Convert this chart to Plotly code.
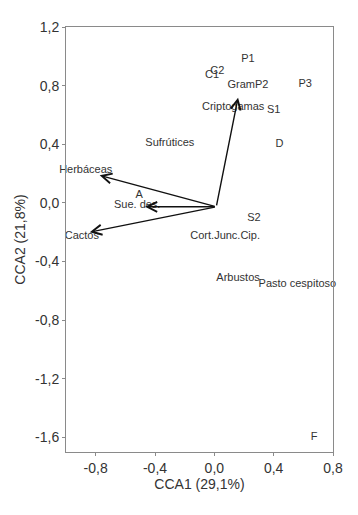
import plotly.graph_objects as go

# Site / species labels (CCA1, CCA2 scores)
label_text = ["P1", "C2", "C1", "GramP2", "P3", "Criptogamas", "S1", "Sufrútices", "D",
              "Herbáceas", "A", "Sue. des.", "Cactos", "S2", "Cort.Junc.Cip.",
              "Arbustos", "Pasto cespitoso", "F"]
label_x = [0.227, 0.02, -0.015, 0.227, 0.613, 0.127, 0.40, -0.30, 0.44,
           -0.867, -0.507, -0.52, -0.893, 0.267, 0.073,
           0.16, 0.56, 0.673]
label_y = [0.98, 0.90, 0.87, 0.80, 0.81, 0.65, 0.635, 0.41, 0.40,
           0.22, 0.054, -0.013, -0.228, -0.107, -0.228,
           -0.517, -0.557, -1.60]

# Environmental / species vectors (biplot arrows)
arrow_names = ["Herbáceas", "Sue. des.", "Cactos", "Criptogamas"]
arrow_origin_x = 0.013
arrow_origin_y = -0.027
arrow_tip_x = [-0.773, -0.467, -0.84, 0.16]
arrow_tip_y = [0.188, -0.027, -0.20, 0.718]

x_tick_vals = [-0.8, -0.4, 0.0, 0.4, 0.8]
x_tick_text = ["-0,8", "-0,4", "0,0", "0,4", "0,8"]
y_tick_vals = [1.2, 0.8, 0.4, 0.0, -0.4, -0.8, -1.2, -1.6]
y_tick_text = ["1,2", "0,8", "0,4", "0,0", "-0,4", "-0,8", "-1,2", "-1,6"]

FONT = "Liberation Sans, Arial"

fig = go.Figure()
fig.add_trace(go.Scatter(
    x=label_x, y=label_y, text=label_text, mode="text",
    textfont=dict(family=FONT, size=11, color="#333333"),
    textposition="middle center", hoverinfo="text", showlegend=False,
    cliponaxis=False,
))

for name, tx, ty in zip(arrow_names, arrow_tip_x, arrow_tip_y):
    fig.add_annotation(
        x=tx, y=ty, ax=arrow_origin_x, ay=arrow_origin_y,
        xref="x", yref="y", axref="x", ayref="y",
        text="", showarrow=True, arrowhead=5, arrowsize=1.4,
        arrowwidth=1.4, arrowcolor="#111111",
    )

axis_common = dict(
    showgrid=False, zeroline=False, showline=True, linecolor="#8a8a8a",
    linewidth=1, mirror=True, ticks="outside", ticklen=3, tickcolor="#8a8a8a",
    tickfont=dict(family=FONT, size=14, color="#333333"),
)

# The page body has an 8px margin, so the figure is sized to fit the window.
fig.update_layout(
    width=350, height=507,
    margin=dict(l=55, r=25, t=11, b=63),
    paper_bgcolor="white", plot_bgcolor="white",
    xaxis=dict(range=[-1.0, 0.8], tickvals=x_tick_vals, ticktext=x_tick_text,
               title=dict(text="CCA1 (29,1%)", standoff=4,
                          font=dict(family=FONT, size=14, color="#333333")),
               **axis_common),
    yaxis=dict(range=[-1.7, 1.2], tickvals=y_tick_vals, ticktext=y_tick_text,
               title=dict(text="CCA2 (21,8%)", standoff=6,
                          font=dict(family=FONT, size=14, color="#333333")),
               **axis_common),
)

fig.write_html("out.html")
